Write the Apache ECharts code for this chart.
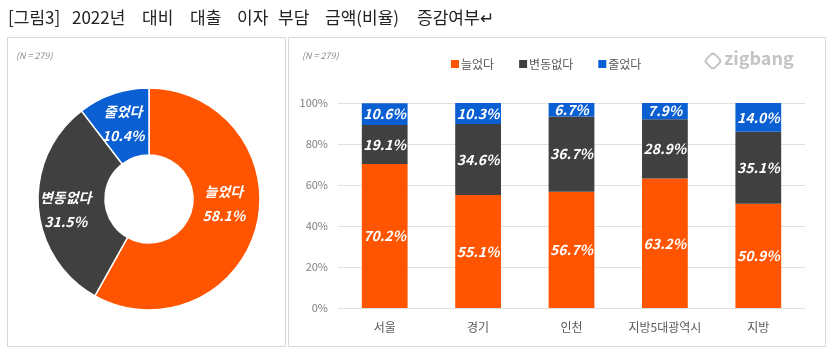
<!DOCTYPE html>
<html>
<head>
<meta charset="utf-8">
<script src="https://cdn.jsdelivr.net/npm/echarts@6/dist/echarts.min.js"></script>
<style>
  html, body { margin: 0; padding: 0; background: #fff; }
  #main { width: 830px; height: 354px; }
</style>
</head>
<body>
<div id="main"></div>
<script>
// 전체 응답 비율
var pieNames = ['늘었다', '변동없다', '줄었다'];
var pieValues = [58.1, 31.5, 10.4];

// 지역별
var regions = ['서울', '경기', '인천', '지방5대광역시', '지방'];
var upValues = [70.2, 55.1, 56.7, 63.2, 50.9];
var sameValues = [19.1, 34.6, 36.7, 28.9, 35.1];
var downValues = [10.6, 10.3, 6.7, 7.9, 14.0];
var yTicks = [0, 20, 40, 60, 80, 100];

var colors = ['#ff5500', '#404040', '#0a5fd3'];
var font = '"Noto Sans CJK KR", "Noto Sans", sans-serif';

// 제목 단어 (원본은 단어 사이 간격이 넓음)
var titleWords = ['[그림3]', '2022년', '대비', '대출', '이자', '부담', '금액(비율)', '증감여부↵'];
var titleX = [8, 72, 142, 190, 237, 278, 325, 417];

var chart = echarts.init(document.getElementById('main'));

var barLabel = {
    show: true,
    color: '#fff',
    fontSize: 14,
    fontWeight: 'bold',
    fontStyle: 'italic',
    fontFamily: font,
    formatter: function (p) { return p.value.toFixed(1) + '%'; }
};

function barSeries(name, values, color) {
    return {
        name: name,
        type: 'bar',
        stack: 'all',
        barWidth: '49%',
        data: values,
        itemStyle: { color: color },
        label: barLabel
    };
}

var graphics = titleWords.map(function (w, i) {
    return { type: 'text', left: titleX[i], top: 9, style: { text: w, font: '17px ' + font, fill: '#222' } };
});
graphics.push(
    { type: 'rect', shape: { x: 7.5, y: 37.5, width: 278, height: 309 }, style: { fill: 'none', stroke: '#d9d9d9', lineWidth: 1 } },
    { type: 'rect', shape: { x: 288.5, y: 37.5, width: 537, height: 309 }, style: { fill: 'none', stroke: '#d9d9d9', lineWidth: 1 } },
    { type: 'text', left: 16, top: 51, style: { text: '(N = 279)', font: 'italic 9px ' + font, fill: '#8c8c8c' } },
    { type: 'text', left: 302, top: 51, style: { text: '(N = 279)', font: 'italic 9px ' + font, fill: '#8c8c8c' } },
    { type: 'text', left: 724, top: 49, style: { text: 'zigbang', font: 'bold 18px ' + font, fill: '#c4c4c4' } },
    { type: 'rect', x: 713, y: 61, rotation: Math.PI / 4, shape: { x: -6, y: -6, width: 12, height: 12, r: 3 }, style: { fill: 'none', stroke: '#c4c4c4', lineWidth: 2 } }
);

var option = {
    animation: false,
    textStyle: { fontFamily: font },
    graphic: graphics,
    legend: {
        data: pieNames,
        left: 446,
        top: 53,
        itemWidth: 8,
        itemHeight: 8,
        itemGap: 25,
        icon: 'rect',
        textStyle: { fontSize: 12, color: '#595959', padding: [0, 0, 0, -3] }
    },
    grid: { left: 338, right: 25, top: 103, bottom: 46 },
    xAxis: {
        type: 'category',
        data: regions,
        axisLine: { show: false },
        axisTick: { show: false },
        axisLabel: { color: '#595959', fontSize: 12, margin: 13, interval: 0 }
    },
    yAxis: {
        type: 'value',
        min: yTicks[0],
        max: yTicks[yTicks.length - 1],
        interval: 20,
        axisLine: { show: false },
        axisTick: { show: false },
        splitLine: { lineStyle: { color: '#e0e0e0' } },
        axisLabel: { color: '#7f7f7f', fontSize: 11, margin: 10, formatter: '{value}%' }
    },
    series: [
        barSeries(pieNames[0], upValues, colors[0]),
        barSeries(pieNames[1], sameValues, colors[1]),
        barSeries(pieNames[2], downValues, colors[2]),
        {
            type: 'pie',
            center: [149, 199],
            radius: [44, 111],
            startAngle: 90,
            clockwise: true,
            legendHoverLink: false,
            data: pieNames.map(function (n, i) {
                var offsets = [[-3, -16], [-3, 5], [0, 1]];
                return {
                    name: n,
                    value: pieValues[i],
                    itemStyle: { color: colors[i] },
                    label: { offset: offsets[i] }
                };
            }),
            itemStyle: { borderColor: '#fff', borderWidth: 1.5 },
            labelLine: { show: false },
            label: {
                position: 'inside',
                color: '#fff',
                fontSize: 14,
                fontWeight: 'bold',
                fontStyle: 'italic',
                lineHeight: 24,
                formatter: function (p) { return p.name + '\n' + p.value.toFixed(1) + '%'; }
            }
        }
    ]
};

chart.setOption(option);
</script>
</body>
</html>
